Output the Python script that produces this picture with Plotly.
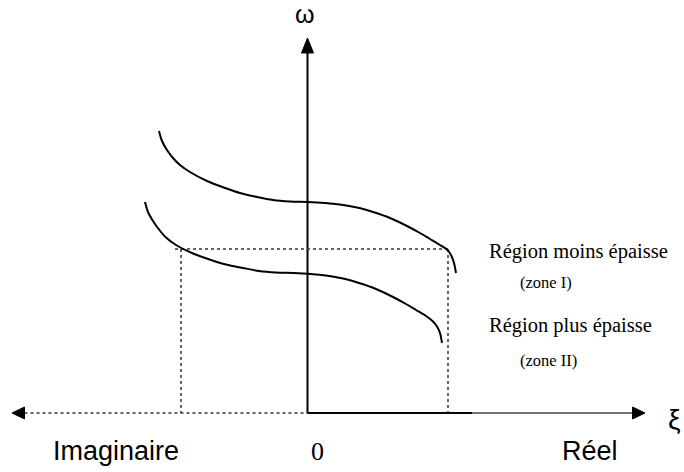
import plotly.graph_objects as go

# Dispersion branches: xi (horizontal) vs omega (vertical)
upper_xi = [-2.97, -2.91, -2.81, -2.69, -2.55, -2.35, -2.01, -1.65, -1.35, -1.01, -0.69, -0.35, 0.0,
            0.35, 0.65, 0.99, 1.31, 1.65, 1.99, 2.25, 2.45, 2.65, 2.79, 2.87, 2.93, 2.97]
upper_omega = [5.64, 5.44, 5.26, 5.10, 4.96, 4.82, 4.64, 4.50, 4.40, 4.32, 4.26, 4.23, 4.22,
               4.20, 4.17, 4.11, 4.02, 3.90, 3.74, 3.60, 3.48, 3.36, 3.27, 3.16, 3.00, 2.80]

lower_xi = [-3.25, -3.19, -3.09, -2.97, -2.83, -2.63, -2.29, -1.93, -1.63, -1.29, -0.97, -0.63, -0.28,
            0.07, 0.37, 0.71, 1.03, 1.37, 1.71, 1.97, 2.17, 2.37, 2.51, 2.59, 2.65, 2.69]
lower_omega = [4.22, 4.02, 3.84, 3.67, 3.51, 3.36, 3.19, 3.06, 2.97, 2.90, 2.84, 2.81, 2.80,
               2.78, 2.75, 2.69, 2.60, 2.48, 2.32, 2.18, 2.06, 1.94, 1.83, 1.73, 1.60, 1.40]

# Construction lines: common frequency and the two wavenumbers it meets
omega_level = 3.28
xi_imag_cut = -2.53
xi_real_cut = 2.81
xi_level_start = -2.65

# Axis extents (arrow tips)
xi_left_tip = -5.91
xi_right_tip = 6.75
xi_solid_end = 3.29
omega_top_tip = 7.5
head_len = 0.25
head_half = 0.12

labels_bottom = ["Imaginaire", "0", "Réel"]
labels_bottom_x = [-3.83, 0.19, 5.65]

region_labels = ["Région moins épaisse", "(zone I)", "Région plus épaisse", "(zone II)"]
region_x = [3.59, 4.21, 3.59, 4.21]
region_y = [3.24, 2.62, 1.76, 1.06]

fig = go.Figure()

line_kw = dict(mode="lines", hoverinfo="skip", showlegend=False)

# Dotted negative (imaginary) half of the xi axis
fig.add_trace(go.Scatter(x=[xi_left_tip + head_len, 0], y=[0, 0],
                         line=dict(color="#333333", width=1.5, dash="dot"), **line_kw))
# Solid positive (real) half of the xi axis
fig.add_trace(go.Scatter(x=[0, xi_solid_end], y=[0, 0],
                         line=dict(color="black", width=2), **line_kw))
fig.add_trace(go.Scatter(x=[xi_solid_end, xi_right_tip - head_len], y=[0, 0],
                         line=dict(color="#444444", width=1.6), **line_kw))
# Omega axis
fig.add_trace(go.Scatter(x=[0, 0], y=[0, omega_top_tip - head_len],
                         line=dict(color="black", width=2), **line_kw))

# Construction lines
dot = dict(color="#333333", width=1.5, dash="dot")
fig.add_trace(go.Scatter(x=[xi_level_start, xi_real_cut], y=[omega_level, omega_level], line=dot, **line_kw))
fig.add_trace(go.Scatter(x=[xi_imag_cut, xi_imag_cut], y=[omega_level, 0], line=dot, **line_kw))
fig.add_trace(go.Scatter(x=[xi_real_cut, xi_real_cut], y=[omega_level, 0], line=dot, **line_kw))

# Dispersion curves
curve_line = dict(color="black", width=2, shape="spline", smoothing=0.8)
fig.add_trace(go.Scatter(x=upper_xi, y=upper_omega, line=curve_line, **line_kw))
fig.add_trace(go.Scatter(x=lower_xi, y=lower_omega, line=curve_line, **line_kw))

# Arrowheads as filled triangles
def tri(p):
    return "M {} {} L {} {} L {} {} Z".format(*p)

heads = [
    (xi_right_tip, 0, xi_right_tip - head_len, head_half, xi_right_tip - head_len, -head_half),
    (xi_left_tip, 0, xi_left_tip + head_len, head_half, xi_left_tip + head_len, -head_half),
    (0, omega_top_tip, -head_half, omega_top_tip - head_len * 1.2, head_half, omega_top_tip - head_len * 1.2),
]
for h in heads:
    fig.add_shape(type="path", path=tri(h), xref="x", yref="y",
                  fillcolor="black", line=dict(color="black", width=1))

sans = "Liberation Sans, Arial, sans-serif"
serif = "Liberation Serif, Times New Roman, serif"

fig.add_annotation(x=-0.06, y=7.98, text="ω", showarrow=False,
                   font=dict(family=sans, size=25, color="black"))
fig.add_annotation(x=7.33, y=-0.12, text="ξ", showarrow=False,
                   font=dict(family=sans, size=28, color="black"))

for txt, xv in zip(labels_bottom, labels_bottom_x):
    fam = serif if txt == "0" else sans
    size = 26 if txt == "0" else 27
    fig.add_annotation(x=xv, y=-0.76, text=txt, showarrow=False,
                       font=dict(family=fam, size=size, color="black"))

for txt, xv, yv in zip(region_labels, region_x, region_y):
    size = 20.5 if txt.startswith("R") else 16.5
    fig.add_annotation(x=xv, y=yv, text=txt, showarrow=False, xanchor="left",
                       font=dict(family=serif, size=size, color="black"))

fig.update_layout(
    width=684, height=472,
    margin=dict(l=0, r=0, t=0, b=0),
    paper_bgcolor="white", plot_bgcolor="white",
    xaxis=dict(range=[-6.15, 7.53], visible=False, fixedrange=True),
    yaxis=dict(range=[-1.18, 8.26], visible=False, fixedrange=True),
    showlegend=False,
)

fig.write_html("out.html")
